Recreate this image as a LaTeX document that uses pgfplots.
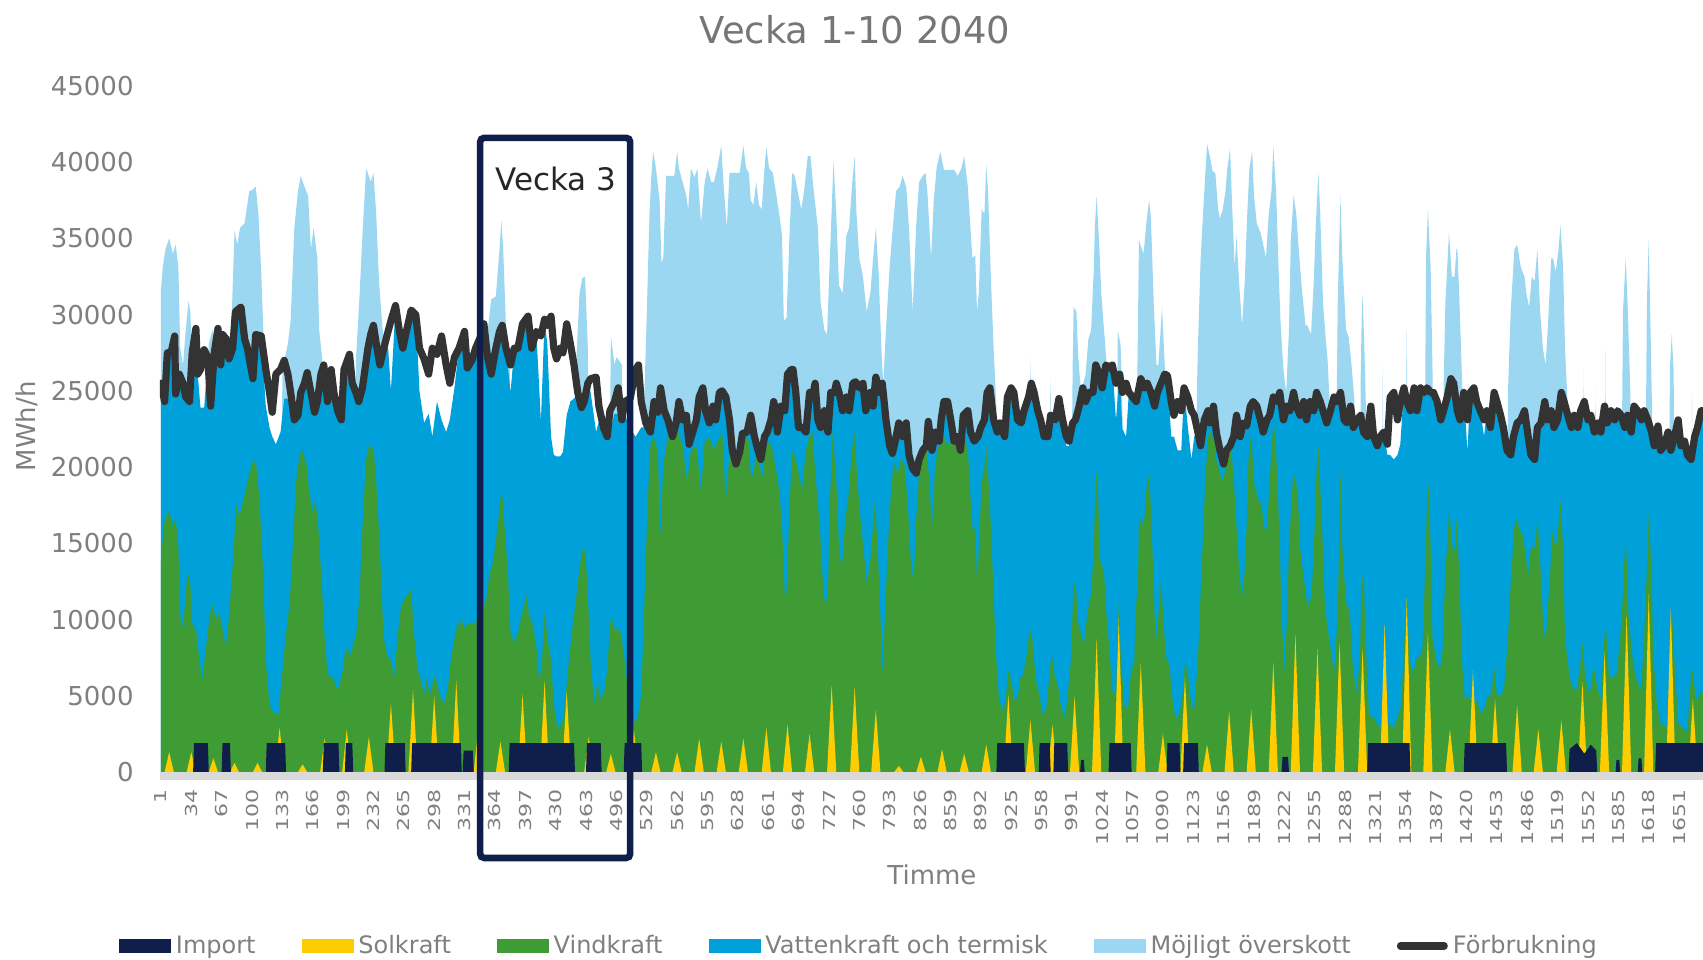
\documentclass[border=0pt]{standalone}
\usepackage{fontspec}
\setmainfont{DejaVu Sans}
\usepackage{graphicx}
\usepackage{pgfplots}
\usepackage{pgfplotstable}
\pgfplotsset{compat=1.18}

\definecolor{impc}{HTML}{0F1E4B}
\definecolor{solc}{HTML}{FFCC00}
\definecolor{vinc}{HTML}{3F9C35}
\definecolor{vatc}{HTML}{00A0DA}
\definecolor{mojc}{HTML}{9BD7F0}
\definecolor{forc}{HTML}{333333}
\definecolor{txtc}{HTML}{7F7F7F}
\definecolor{titc}{HTML}{767676}
\definecolor{axc}{HTML}{D9D9D9}

\newcommand{\xl}[1]{\scalebox{1}[0.75]{#1}}

% timme, förbrukning (L), topp vattenkraft (B)
\pgfplotstableread[row sep=\\]{
h L B\\
1 25500 25500\\ 5 24300 24300\\ 8 27500 27500\\ 12 27500 27500\\ 16 28600 28600\\ 17 24800 24800\\
21 26100 26100\\ 25 25500 25500\\ 28 24600 24600\\ 32 24300 24300\\ 35 27500 27500\\ 39 29100 29100\\
41 26100 26100\\ 44 26400 23900\\ 48 27700 23900\\ 52 27200 27200\\ 55 24000 24000\\ 59 27500 27500\\
63 29100 29100\\ 66 26700 26700\\ 68 28700 28700\\ 72 28400 28400\\ 75 27100 27100\\ 79 27800 27800\\
82 30200 30200\\ 88 30500 30500\\ 92 28400 28400\\ 95 27800 27800\\ 101 25800 25800\\ 104 28700 28700\\
110 28600 28600\\ 115 26400 24000\\ 119 24900 22600\\ 122 23600 22000\\ 126 26100 21500\\ 131 26400 22300\\
135 27000 24500\\ 139 26100 24500\\ 142 24900 23500\\ 146 23100 23100\\ 150 23400 23400\\ 153 24900 24900\\
157 25500 25500\\ 160 26200 26200\\ 164 24900 24900\\ 168 23600 23600\\ 171 24300 24300\\ 175 26100 26100\\
178 26700 26700\\ 182 24300 24300\\ 186 26400 26400\\ 189 24900 24900\\ 193 23700 23100\\ 197 23100 23100\\
200 26400 26400\\ 206 27400 27400\\ 209 25500 25500\\ 213 24900 24900\\ 216 24300 24300\\ 220 25200 25200\\
226 27800 27800\\ 229 28700 28700\\ 232 29300 29300\\ 235 28100 28100\\ 239 26700 26700\\ 242 27500 27500\\
247 28700 28700\\ 251 29600 25000\\ 256 30600 30600\\ 260 29000 29000\\ 264 27800 27800\\ 267 28700 28700\\
273 30300 30300\\ 278 30000 30000\\ 282 27800 25000\\ 287 27100 22900\\ 292 26100 23500\\ 296 27800 22000\\
301 27400 24300\\ 306 28600 23100\\ 311 26700 22300\\ 315 25500 23100\\ 320 27200 25200\\ 325 27800 27800\\
331 28900 28900\\ 334 26500 26500\\ 339 27000 27000\\ 343 27800 27800\\ 348 28500 28500\\ 352 29400 29400\\
356 27200 27200\\ 360 26100 26100\\ 365 27800 27800\\ 369 28900 28900\\ 372 29300 29300\\ 376 27800 27800\\
381 26700 24900\\ 385 27800 27800\\ 389 27800 27800\\ 394 29400 29400\\ 400 29900 29900\\ 404 27800 27800\\
409 28900 28900\\ 414 28600 23000\\ 418 29700 29700\\ 421 29300 28000\\ 425 29900 22000\\ 428 27800 20800\\
431 27100 20700\\ 435 27800 20700\\ 438 27500 21000\\ 442 29400 23400\\ 446 28100 24300\\ 450 26700 24500\\
454 24900 24900\\ 458 23900 23900\\ 461 24300 24300\\ 465 25500 25500\\ 468 25800 24900\\ 474 25900 22300\\
477 24000 23000\\ 482 22600 22600\\ 486 22000 22000\\ 489 23700 22300\\ 494 24300 23500\\ 498 25200 23500\\
502 23100 23100\\ 505 24300 23500\\ 511 24500 22500\\ 517 26400 22000\\ 520 26700 22300\\ 523 24300 22600\\
528 22900 22600\\ 533 22300 22300\\ 537 24300 24300\\ 541 23600 23600\\ 544 25200 25200\\ 548 23700 23700\\
552 23100 23100\\ 557 22000 22000\\ 561 22900 22900\\ 564 24300 24300\\ 568 23100 23100\\ 572 23400 23400\\
575 21500 21500\\ 579 22300 22300\\ 583 23100 23100\\ 586 24600 24600\\ 590 25200 25200\\ 593 23700 23700\\
597 22900 22900\\ 601 24000 24000\\ 604 23100 23100\\ 608 24900 24900\\ 611 25000 25000\\ 615 24600 24600\\
619 23100 23100\\ 622 21100 21100\\ 626 20200 20200\\ 630 21000 21000\\ 633 22200 22200\\ 638 22300 22300\\
642 23400 23400\\ 646 22000 22000\\ 650 21100 21100\\ 653 20500 20500\\ 657 22000 22000\\ 660 22300 22300\\
664 23100 23100\\ 667 24300 24300\\ 669 23700 23700\\ 671 22300 22300\\ 675 24000 24000\\ 679 23700 23700\\
682 26100 26100\\ 686 26400 26400\\ 688 26400 26400\\ 691 24900 24900\\ 694 22600 22600\\ 698 22600 22600\\
702 22300 22300\\ 706 24900 24900\\ 709 24600 24600\\ 712 25500 25500\\ 715 23100 23100\\ 718 22600 22600\\
722 23700 23700\\ 726 22300 22300\\ 729 24900 24900\\ 733 24900 24900\\ 735 25500 25500\\ 738 24900 24900\\
742 23700 23700\\ 746 24600 24600\\ 749 23700 23700\\ 753 25500 25500\\ 756 25600 25600\\ 760 25200 25200\\
764 25500 25500\\ 767 23700 23700\\ 772 24900 24900\\ 775 24000 24000\\ 778 25900 25900\\ 782 24900 24900\\
785 25500 25500\\ 789 23100 23100\\ 793 21400 21400\\ 796 20900 20900\\ 800 22000 22000\\ 803 22900 22900\\
807 22000 22000\\ 811 22900 22900\\ 814 20800 20800\\ 818 19900 19900\\ 822 19600 19600\\ 825 20500 20500\\
829 21100 21100\\ 833 21400 21400\\ 835 23000 23000\\ 839 21100 21100\\ 843 22300 22300\\ 847 21700 21700\\
849 23100 23100\\ 852 24300 24300\\ 856 24300 24300\\ 860 22900 22900\\ 863 21700 21700\\ 867 22000 22000\\
870 21100 21100\\ 873 23400 23400\\ 878 23700 23700\\ 881 22300 22300\\ 885 21700 21700\\ 889 22000 22000\\
892 22600 22600\\ 896 23100 23100\\ 899 24900 24900\\ 902 25200 25200\\ 906 23100 23100\\ 910 22300 22300\\
913 22900 22300\\ 918 22000 22000\\ 921 24600 24600\\ 925 25200 25200\\ 928 24900 24900\\ 932 23100 23100\\
936 22900 22900\\ 939 23700 23700\\ 944 24600 24600\\ 947 25500 25500\\ 950 24900 24900\\ 954 23700 23700\\
957 23100 23100\\ 961 22000 22000\\ 965 22000 22000\\ 968 23400 23400\\ 973 23100 23100\\ 977 24500 24500\\
981 23100 23100\\ 985 22000 21400\\ 988 21700 21400\\ 992 22900 22900\\ 995 23100 23100\\ 999 24000 24000\\
1003 25200 25200\\ 1006 24300 24300\\ 1010 24900 24900\\ 1014 24900 24900\\ 1017 26700 26700\\ 1021 26100 26100\\
1024 25200 25200\\ 1028 26700 26700\\ 1032 26500 26500\\ 1035 26700 26700\\ 1039 25500 23100\\ 1043 26100 26100\\
1046 24900 22500\\ 1050 25500 22000\\ 1053 24900 24900\\ 1057 24600 24600\\ 1061 24300 24300\\ 1066 25800 25800\\
1070 25200 25200\\ 1073 25500 25500\\ 1077 24900 24900\\ 1081 24000 24000\\ 1084 24900 24900\\ 1088 25500 25500\\
1092 26100 26100\\ 1095 26000 26000\\ 1099 24300 22000\\ 1102 23400 22000\\ 1106 24300 21100\\ 1110 23700 21100\\
1113 25200 25200\\ 1117 24600 22700\\ 1121 23700 20500\\ 1124 23400 22000\\ 1128 22300 22300\\ 1131 21400 21400\\
1135 23100 23100\\ 1139 23700 23700\\ 1141 22900 22900\\ 1145 24000 24000\\ 1148 22300 22300\\ 1152 21100 21100\\
1156 20200 20200\\ 1159 21100 21100\\ 1163 21400 21400\\ 1167 22000 22000\\ 1170 23400 23400\\ 1174 22000 22000\\
1177 22900 22900\\ 1181 22700 22700\\ 1185 24000 24000\\ 1188 24300 24300\\ 1192 24000 24000\\ 1196 23100 23100\\
1199 22300 22300\\ 1203 23100 23100\\ 1206 23400 23400\\ 1210 24600 24600\\ 1214 24300 24300\\ 1217 24900 24900\\
1221 23100 23100\\ 1225 24000 24000\\ 1228 23700 23700\\ 1232 24900 24900\\ 1235 24000 24000\\ 1239 23400 23400\\
1243 24300 24300\\ 1246 23100 23100\\ 1250 24300 24300\\ 1254 23700 23700\\ 1257 24900 24900\\ 1261 24300 24300\\
1264 23700 23700\\ 1268 22900 22900\\ 1272 23700 23700\\ 1276 24600 24600\\ 1279 24300 24300\\ 1283 24900 24900\\
1287 23100 23100\\ 1290 22900 22900\\ 1294 24000 24000\\ 1297 22600 22600\\ 1301 23100 23100\\ 1305 23400 23400\\
1308 22300 22300\\ 1312 22000 22000\\ 1316 24000 24000\\ 1319 22000 22000\\ 1323 21400 21400\\ 1326 22000 22000\\
1330 22300 22300\\ 1334 21500 20800\\ 1337 24600 20800\\ 1341 24900 20500\\ 1345 23100 20800\\ 1348 24300 21500\\
1352 25200 25200\\ 1355 24300 24300\\ 1359 23700 23700\\ 1363 25200 25200\\ 1366 23700 23700\\ 1370 25200 25200\\
1374 24900 24900\\ 1377 25200 25200\\ 1381 24900 24900\\ 1384 24900 24900\\ 1388 24300 24300\\ 1392 23100 23100\\
1395 23700 23700\\ 1399 24600 24600\\ 1403 25800 25800\\ 1406 25500 25500\\ 1410 23700 23700\\ 1413 23100 23100\\
1417 24900 24900\\ 1421 23100 21000\\ 1424 24900 24900\\ 1428 25200 25200\\ 1431 24300 24300\\ 1435 23700 23700\\
1439 23100 22000\\ 1442 23700 23700\\ 1446 22600 22600\\ 1450 24900 24900\\ 1453 24300 24300\\ 1457 23400 23400\\
1460 22600 22000\\ 1464 21100 21100\\ 1468 20800 20800\\ 1471 22000 22000\\ 1475 22900 22900\\ 1479 23100 23100\\
1483 23700 23700\\ 1487 22000 22000\\ 1490 20800 20800\\ 1494 20500 20500\\ 1497 22600 22600\\ 1501 22900 22900\\
1505 24300 24300\\ 1508 23100 23100\\ 1512 23700 23700\\ 1515 22600 22600\\ 1519 23100 23100\\ 1523 24900 24900\\
1526 24300 24300\\ 1530 23400 23400\\ 1534 22600 22600\\ 1537 23400 23400\\ 1541 22600 22600\\ 1544 23700 23700\\
1548 24300 24300\\ 1552 23100 23100\\ 1555 23400 23400\\ 1559 22300 22300\\ 1563 22900 22900\\ 1566 22300 22300\\
1570 24000 24000\\ 1573 22900 22900\\ 1577 23700 23700\\ 1581 23100 23100\\ 1584 23700 23700\\ 1588 23400 23400\\
1592 22600 22600\\ 1595 23400 23400\\ 1599 22300 22300\\ 1602 24000 24000\\ 1606 23700 23700\\ 1610 23100 23100\\
1613 23700 23700\\ 1617 23100 23100\\ 1621 22300 22300\\ 1624 21400 21400\\ 1628 22700 22700\\ 1631 21100 20800\\
1635 21400 21400\\ 1639 22300 22300\\ 1642 21100 21100\\ 1646 22000 22000\\ 1650 23100 23100\\ 1653 21400 21400\\
1657 21700 21700\\ 1660 20800 20800\\ 1664 20500 20500\\ 1668 22000 22000\\ 1671 22600 22600\\ 1675 23700 23700\\
1677 23700 23700\\
}\tabLB

\begin{document}
\begin{tikzpicture}
\begin{axis}[
    at={(0,0)}, anchor=south west,
    width=771.5pt, height=343pt, scale only axis,
    xmin=0, xmax=1677, ymin=0, ymax=45000,
    axis line style={draw=none},
    major tick length=0pt,
    clip mode=individual,
    scaled y ticks=false,
    scaled x ticks=false,
    ytick={0,5000,10000,15000,20000,25000,30000,35000,40000,45000},
    yticklabels={0,5000,10000,15000,20000,25000,30000,35000,40000,45000},
    yticklabel style={font=\fontsize{13}{13}\selectfont, text=txtc, anchor=east, inner xsep=13pt},
    xtick={1,34,67,100,133,166,199,232,265,298,331,364,397,430,463,496,529,562,595,628,661,694,727,760,793,826,859,892,925,958,991,1024,1057,1090,1123,1156,1189,1222,1255,1288,1321,1354,1387,1420,1453,1486,1519,1552,1585,1618,1651},
    xticklabels={\xl{1},\xl{34},\xl{67},\xl{100},\xl{133},\xl{166},\xl{199},\xl{232},\xl{265},\xl{298},\xl{331},\xl{364},\xl{397},\xl{430},\xl{463},\xl{496},\xl{529},\xl{562},\xl{595},\xl{628},\xl{661},\xl{694},\xl{727},\xl{760},\xl{793},\xl{826},\xl{859},\xl{892},\xl{925},\xl{958},\xl{991},\xl{1024},\xl{1057},\xl{1090},\xl{1123},\xl{1156},\xl{1189},\xl{1222},\xl{1255},\xl{1288},\xl{1321},\xl{1354},\xl{1387},\xl{1420},\xl{1453},\xl{1486},\xl{1519},\xl{1552},\xl{1585},\xl{1618},\xl{1651}},
    xticklabel style={font=\fontsize{11}{11}\selectfont, text=txtc, rotate=90, anchor=east, inner xsep=8.5pt, inner ysep=0pt},
    title={Vecka 1-10 2040},
    title style={at={(0.4504,1.0641)}, anchor=center, font=\fontsize{18.5}{18.5}\selectfont, text=titc},
    xlabel={Timme},
    xlabel style={at={(0.5003,-0.150)}, anchor=center, font=\fontsize{13}{13}\selectfont, text=txtc},
    ylabel={MWh/h},
    ylabel style={at={(-0.0862,0.504)}, anchor=center, font=\fontsize{13}{13}\selectfont, text=txtc},
    legend columns=6,
    legend style={at={(0.454,-0.2536)}, anchor=center, draw=none, fill=none,
        font=\fontsize{12}{12}\selectfont, text=txtc, inner xsep=0pt, inner ysep=0pt,
        nodes={inner xsep=2.5pt, inner ysep=1pt},
        /tikz/every even column/.append style={column sep=20.5pt}},
]
% Möjligt överskott (total topp)
\addplot[fill=mojc, draw=none, forget plot] coordinates {
(1,31600)(3,33100)(6,34300)(10,35000)(14,34000)(17,34600)(20,33100)(22,27800)(25,26700)(28,29000)(31,30900)(33,30200)(35,26700)(38,27000)(41,26000)(43,15000)(50,15000)(53,28100)(57,29000)(61,27800)(64,27200)(68,26500)(72,26100)(75,27200)(78,30000)(81,35500)(84,34600)(87,35700)(92,36000)(97,38100)(101,38200)(104,38400)(107,36600)(110,32800)(113,27800)(115,15000)(132,15000)(133,26400)(139,28100)(142,29600)(146,35700)(150,38100)(153,39100)(157,38400)(161,37800)(164,34300)(167,35700)(171,33700)(173,29000)(177,26700)(180,15000)
(211,15000)(213,27000)(217,31400)(220,35200)(224,39600)(227,39100)(229,38700)(232,39300)(235,36600)(238,32200)(242,29000)(246,27200)(248,15000)(352,15000)(354,27800)(360,31000)(365,31200)(369,34300)(371,36200)(373,34300)(376,29300)(380,27200)(382,15000)(450,15000)(452,26500)(456,31400)(459,32400)(462,32500)(465,27800)(468,15000)(488,15000)(490,28600)(494,26700)(496,27200)(499,27000)(502,26700)(504,15000)
(524,15000)(526,24000)(528,27800)(532,36600)(534,39100)(536,40700)(539,39600)(543,37500)(545,33400)(547,33700)(550,39100)(553,39100)(559,39100)(562,40700)(564,39600)(568,38700)(572,37800)(574,36900)(577,39600)(581,39000)(584,39600)(588,36000)(592,38700)(595,39600)(599,38700)(602,38700)(606,39700)(610,41100)(612,39000)(616,35700)(619,39300)(624,39300)(630,39300)(634,41100)(637,39600)(640,39300)(642,37500)(645,37200)(648,38700)(651,37200)(654,36900)(657,39600)(659,41000)(662,39600)(666,39300)(670,37800)(673,36600)(676,35200)(678,29600)(681,29800)(684,34900)(687,39300)(690,39100)(693,38100)(697,36900)(700,38100)(704,40400)(707,40400)(710,38400)(715,35700)(718,30800)(722,29000)(725,28700)(728,33700)(732,40100)(735,36600)(738,31900)(742,31400)(746,35200)(749,35700)(752,38400)(755,40400)(757,36600)(760,33700)(764,32500)(768,30200)(772,31400)(775,33700)(778,35700)(781,32800)(784,27800)(786,25500)(789,29000)(793,33100)(796,35400)(800,38100)(804,38400)(807,39100)(811,38400)(814,35700)(818,30200)(822,36000)(825,38700)(829,39100)(832,39300)(834,38100)(838,33700)(841,37500)(844,39600)(848,40700)(852,39500)(858,39500)(863,39500)(867,39100)(871,39600)(874,40400)(878,38400)(881,35500)(883,33700)(886,33900)(888,30200)(890,31500)(893,36900)(896,36600)(898,39800)(900,38100)(903,32500)(906,27800)(909,24000)(911,15000)
(944,15000)(946,27200)(948,15000)(966,15000)(968,25800)(970,15000)(990,15000)(992,27000)(993,30500)(996,30200)(998,27200)(1001,24900)(1006,26100)(1009,28400)(1012,29000)(1015,33100)(1016,35700)(1018,37800)(1021,34300)(1023,31400)(1026,29000)(1029,26700)(1033,24500)(1035,15000)(1039,15000)(1041,29000)(1044,28000)(1046,24000)(1047,15000)
(1061,15000)(1062,25000)(1064,34900)(1066,34500)(1069,34000)(1072,36000)(1075,37500)(1077,36300)(1080,30800)(1083,26700)(1085,26700)(1087,28500)(1089,30500)(1092,26700)(1094,25000)(1096,15000)(1125,15000)(1127,25000)(1128,27800)(1131,33700)(1135,38100)(1138,41200)(1141,40400)(1144,39400)(1147,39300)(1150,36900)(1152,36300)(1155,36900)(1158,38100)(1160,39600)(1163,40900)(1165,37500)(1168,33100)(1170,35200)(1173,31900)(1176,29300)(1179,32200)(1181,35700)(1184,39600)(1187,40700)(1189,37800)(1192,36000)(1196,35400)(1199,34600)(1202,33700)(1205,36600)(1208,38100)(1210,41000)(1213,38100)(1216,32500)(1218,29300)(1221,26400)(1224,24900)(1227,29000)(1229,34900)(1232,37800)(1235,36600)(1238,34000)(1241,31700)(1245,29300)(1247,29300)(1251,28700)(1254,32200)(1256,35700)(1259,39300)(1261,36600)(1264,30800)(1267,28400)(1269,27000)(1271,24500)(1273,15000)
(1277,15000)(1279,25000)(1280,30800)(1283,37800)(1285,33700)(1289,29000)(1292,28500)(1295,26700)(1298,24500)(1300,15000)(1304,15000)(1305,26000)(1306,29600)(1307,31400)(1309,27800)(1311,23000)(1312,15000)(1328,15000)(1329,26700)(1330,15000)(1353,15000)(1355,29000)(1357,15000)(1374,15000)(1376,33700)(1378,36900)(1381,33100)(1383,26400)(1385,15000)(1394,15000)(1395,25000)(1397,30800)(1400,34300)(1401,35400)(1404,32500)(1407,32500)(1409,34300)(1410,34300)(1412,31400)(1414,27800)(1416,24000)(1417,15000)
(1464,15000)(1465,24900)(1468,30200)(1472,34300)(1475,34600)(1479,33100)(1481,32800)(1483,32500)(1485,31400)(1488,30500)(1491,32500)(1494,32200)(1497,34300)(1500,30200)(1503,27800)(1506,26700)(1509,29900)(1512,33700)(1514,33700)(1517,32800)(1520,34300)(1522,35900)(1525,33100)(1527,27800)(1530,24000)(1531,15000)(1546,15000)(1547,26500)(1548,15000)(1559,15000)(1560,25200)(1561,15000)(1570,15000)(1571,27700)(1572,15000)(1588,15000)(1590,30200)(1593,33700)(1595,30800)(1598,25000)(1599,15000)(1614,15000)(1616,30800)(1618,34900)(1620,29000)(1622,22500)(1623,15000)(1640,15000)(1641,26400)(1643,28700)(1645,26400)(1647,15000)(1664,15000)(1665,24900)(1666,15000)(1677,15000)
} \closedcycle;
% Vattenkraft och termisk (topp)
\addplot[fill=vatc, draw=none, forget plot] table[x=h, y=B] {\tabLB} \closedcycle;
% Vindkraft (topp)
\addplot[fill=vinc, draw=none, forget plot] coordinates {
(1,13800)(4,16100)(6,16700)(10,17100)(14,16100)(17,16700)(20,14650)(22,10250)(25,9400)(30,13200)(33,12300)(35,9700)(39,9400)(43,7300)(46,6000)(50,8200)(54,10250)(57,11000)(61,10000)(64,10500)(68,9400)(72,8200)(75,10250)(79,13500)(83,17600)(86,16700)(91,17900)(95,19000)(100,20200)(104,20500)(108,17900)(112,13200)(115,7300)(119,4400)(124,3800)(129,3800)(132,5900)(137,9100)(141,11100)(144,14400)(148,19000)(151,20500)(154,21200)(159,20200)(162,18500)(166,17000)(169,17900)(172,16100)(175,13200)(179,8800)(182,6400)(188,6200)(193,5300)(199,6700)(202,8200)(208,7600)
(210,8500)(213,8800)(217,11700)(220,16100)(224,20500)(227,21500)(229,21100)(232,21400)(235,19000)(239,14700)(243,8800)(247,7600)(251,7300)(255,6200)(258,8800)(262,10800)(266,11400)(269,11600)(273,12000)(276,9100)(280,6700)(284,5900)(287,5000)(290,6200)(293,5000)(299,6400)(304,5000)(309,4500)(313,5600)(316,7300)(322,9400)(327,10000)(331,9400)(336,9800)(342,9700)(351,10800)(354,11100)(358,12900)(362,13800)(367,16100)(370,17900)(372,18300)(374,16400)(378,13200)(381,9100)(385,8500)(389,9100)(394,10500)(399,11700)(401,10250)(405,9700)(409,8200)(412,5900)(415,7000)(418,10500)
(421,8800)(425,7300)(428,4400)(432,2900)(436,3100)(439,3800)(443,6400)(447,8800)(450,10250)(454,12300)(457,13800)(459,14400)(462,14700)(465,11700)(468,7300)(472,4400)(476,5900)(479,4700)(483,5300)(486,6700)(490,10250)(494,9400)(497,9400)(501,9100)(505,7300)(510,4500)(515,3200)(519,3500)(523,5000)(526,10250)(530,17600)(533,21400)(536,22000)(541,21100)(544,15200)(547,20200)(552,22000)(557,22000)(563,22300)(568,21400)(573,19000)(577,21100)(583,21400)(588,18300)(592,21700)(597,22000)(602,21100)(606,21700)(611,22300)(615,17700)(619,21100)(624,20800)(630,20200)
(633,21100)(637,22000)(640,21700)(642,19600)(645,19300)(648,21400)(652,20200)(654,19000)(658,21100)(662,21700)(666,21100)(670,19600)(673,18500)(676,16100)(679,11700)(681,11700)(684,17000)(687,21100)(691,20500)(695,19300)(698,18500)(702,21100)(706,22000)(709,22300)(713,19000)(717,16100)(720,12900)(723,10800)(726,11700)(728,17600)(731,22300)(735,19000)(738,14700)(741,13300)(745,16700)(748,17900)(752,21100)(755,22300)(758,19000)(762,16100)(766,13800)(768,12300)(772,13800)(775,16100)(777,17900)(780,14700)(783,10250)(785,6200)(788,10250)(791,14700)(795,19000)(798,20200)(802,19600)(805,20500)(809,20200)(813,17300)(816,13800)(819,12300)(822,16700)(825,19600)(829,20500)(833,21100)(836,19300)(839,15800)(842,19600)(845,21100)
(849,21700)(852,22000)(856,21400)(860,21700)(863,21700)(867,21400)(871,21700)(874,22000)(878,21100)(881,17900)(883,16100)(886,15800)(888,12300)(890,14700)(893,19000)(896,19900)(898,21400)(900,19600)(903,16100)(906,11700)(909,7300)(912,4700)(916,4000)(919,4700)(922,6700)(925,6000)(929,4700)(932,4800)(935,6200)(938,6300)(941,7300)(944,8800)(947,9400)(950,7300)(952,6000)(956,5000)(959,3800)(963,4100)(967,6400)(969,7900)(972,6400)(976,5600)(979,4400)(983,3500)(986,4700)(990,7300)(993,12600)(996,11700)(998,9700)(1001,9100)(1004,8200)(1006,9400)(1009,10800)(1012,11700)(1015,14700)(1017,19900)(1019,19000)(1022,13800)(1026,13200)(1028,10800)(1032,7900)(1035,5300)(1039,5000)(1042,11100)(1044,7900)(1048,4400)(1052,4100)(1055,6400)(1059,7300)
(1060,10250)(1063,12600)(1064,17000)(1067,16100)(1070,16700)(1072,18500)(1075,19600)(1077,17300)(1080,12300)(1082,8200)(1085,10250)(1088,12600)(1091,9700)(1093,7600)(1097,7000)(1101,4400)(1104,3500)(1108,3800)(1112,5300)(1114,7300)(1117,6400)(1121,4400)(1124,4100)(1128,7300)(1130,10250)(1133,14700)(1136,19000)(1139,22000)(1142,22300)(1146,21700)(1148,20500)(1151,19900)(1154,19000)(1157,19600)(1159,20500)(1162,22000)(1165,20800)(1168,18200)(1170,16100)(1173,13200)(1176,11400)(1179,13200)(1181,16100)(1183,20500)(1186,22300)(1189,19000)(1193,17900)(1197,17600)(1200,16100)(1203,15800)(1206,19000)(1209,22000)(1211,22900)(1214,19900)(1217,14700)(1219,10250)(1222,6400)(1225,10250)(1227,14700)(1231,19000)(1234,19600)(1237,17600)(1239,14700)(1242,13200)(1246,11400)(1249,10800)(1252,11900)(1255,16100)(1257,19900)(1259,21400)(1263,16100)(1266,11000)
(1269,9400)(1272,8200)(1276,6400)(1280,10250)(1283,19900)(1285,14700)(1289,11100)(1293,10500)(1296,7300)(1300,5000)(1304,7300)(1306,12300)(1308,13200)(1311,7600)(1314,3800)(1320,3500)(1325,2900)(1331,3200)(1336,3200)(1340,2900)(1343,3200)(1349,4400)(1352,8200)(1355,11400)(1358,7300)(1362,6400)(1365,7300)(1369,7600)(1372,7900)(1375,13200)(1377,17600)(1379,19000)(1381,14700)(1383,8800)(1387,7300)(1391,6700)(1394,7900)(1397,13200)(1400,15800)(1401,17600)(1404,14900)(1407,14400)(1409,16700)(1412,13200)(1415,7300)(1418,4700)(1422,5000)(1427,4400)(1431,4700)(1436,3800)(1439,4100)(1443,5000)(1447,5000)(1450,7000)(1453,5000)(1458,5000)(1461,5600)(1465,8800)(1468,12300)(1472,16100)(1475,16700)
(1477,16000)(1481,15500)(1484,14400)(1487,12900)(1490,14700)(1494,14700)(1497,16600)(1500,13800)(1504,8800)(1507,9400)(1511,13200)(1513,15800)(1517,14700)(1519,15500)(1522,17900)(1525,14700)(1527,8800)(1532,6200)(1535,5600)(1539,5300)(1543,6700)(1546,8500)(1549,6200)(1554,5000)(1558,7000)(1562,5600)(1566,4700)(1571,10000)(1575,6200)(1578,6200)(1583,6400)(1587,8800)(1590,11700)(1593,15800)(1596,10250)(1600,7600)(1604,6200)(1609,5300)(1612,7600)(1616,13200)(1618,17000)(1621,13200)(1623,7600)(1627,4400)(1631,3200)(1637,2900)(1641,4400)(1643,10800)(1646,7300)(1650,3200)(1655,2900)(1660,2600)(1664,6400)(1666,6700)(1669,4700)(1673,5000)(1677,5300)
} \closedcycle;
% Solkraft (topp)
\addplot[fill=solc, draw=none, forget plot] coordinates {
(5,0)(10,1300)(15,0)(29,0)(34,1300)(39,0)(53,0)(58,900)(63,0)(76,0)(81,600)(86,0)(101,0)(106,600)(111,0)(125,0)(130,2900)(135,0)(150,0)(155,500)(160,0)(174,0)(179,2200)(184,0)(198,0)(203,2800)(208,0)
(222,0)(227,2300)(232,0)(246,0)(251,4500)(256,0)(270,0)(275,5400)(280,0)(293,0)(298,5000)(303,0)(317,0)(322,6000)(327,0)(341,0)(346,3000)(351,0)(365,0)(370,2000)(375,0)(389,0)(394,5100)(399,0)(413,0)(418,6000)(423,0)
(437,0)(442,5300)(447,0)(461,0)(466,2300)(471,0)(485,0)(490,1200)(495,0)(510,0)(515,2800)(520,0)(534,0)(539,1300)(544,0)(557,0)(562,1300)(567,0)(581,0)(586,2200)(591,0)(605,0)(610,2000)(615,0)(629,0)(634,2200)(639,0)
(654,0)(659,2900)(664,0)(677,0)(682,3100)(687,0)(701,0)(706,2500)(711,0)(725,0)(730,5700)(735,0)(750,0)(755,5600)(760,0)(773,0)(778,4100)(783,0)(798,0)(803,400)(808,0)(822,0)(827,1000)(832,0)
(845,0)(850,1500)(855,0)(869,0)(874,1200)(879,0)(893,0)(898,1800)(903,0)(917,0)(922,5100)(927,0)(941,0)(946,3400)(951,0)(965,0)(970,3100)(975,0)(989,0)(994,5000)(999,0)(1013,0)(1018,8800)(1023,0)(1037,0)(1042,10100)(1047,0)
(1061,0)(1066,7200)(1071,0)(1085,0)(1090,2500)(1095,0)(1109,0)(1114,6200)(1119,0)(1133,0)(1138,1800)(1143,0)(1157,0)(1162,4000)(1167,0)(1181,0)(1186,4100)(1191,0)(1205,0)(1210,7200)(1215,0)(1229,0)(1234,9100)(1239,0)(1253,0)(1258,8100)(1263,0)
(1277,0)(1282,8500)(1287,0)(1302,0)(1307,8100)(1312,0)(1326,0)(1331,9800)(1336,0)(1350,0)(1355,11400)(1360,0)(1373,0)(1378,9200)(1383,0)(1397,0)(1402,2800)(1407,0)(1422,0)(1427,6700)(1432,0)(1446,0)(1451,4800)(1456,0)(1470,0)(1475,4400)(1480,0)
(1493,0)(1498,2800)(1503,0)(1518,0)(1523,3400)(1528,0)(1541,0)(1546,5900)(1551,0)(1565,0)(1570,7900)(1575,0)(1589,0)(1594,10400)(1599,0)(1613,0)(1618,11700)(1623,0)(1637,0)(1642,10800)(1647,0)(1661,0)(1666,4800)(1671,0)
} \closedcycle;
% Import
\addplot[fill=impc, draw=none, forget plot] coordinates {
(36,0)(37,1900)(52,1900)(53,0)(67,0)(68,1900)(76,1900)(77,0)(115,0)(116,1900)(136,1900)(137,0)(177,0)(178,1900)(194,1900)(195,0)(201,0)(202,1900)(209,1900)(210,0)
(244,0)(245,1900)(266,1900)(267,0)(273,0)(274,1900)(327,1900)(328,0)(329,0)(330,1400)(340,1400)(341,0)(379,0)(380,1900)(450,1900)(451,0)(463,0)(464,1900)(479,1900)(480,0)(504,0)(505,1900)(523,1900)(524,0)
(909,0)(910,1900)(939,1900)(940,0)(955,0)(956,1900)(967,1900)(968,0)(971,0)(972,1900)(986,1900)(987,0)(1000,0)(1001,800)(1004,800)(1005,0)(1031,0)(1032,1900)(1055,1900)(1056,0)
(1094,0)(1095,1900)(1108,1900)(1109,0)(1112,0)(1113,1900)(1128,1900)(1129,0)(1219,0)(1220,1000)(1226,1000)(1227,0)(1312,0)(1313,1900)(1358,1900)(1359,0)(1417,0)(1418,1900)(1463,1900)(1464,0)
(1531,0)(1532,1500)(1540,1900)(1548,1200)(1555,1800)(1561,1400)(1562,0)(1582,0)(1583,800)(1586,800)(1587,0)(1606,0)(1607,900)(1610,900)(1611,0)(1625,0)(1626,1900)(1677,1900)
} \closedcycle;
% Förbrukning
\addplot[forc, line width=3.6pt, line join=round, line cap=round, mark=none, forget plot] table[x=h, y=L] {\tabLB};

\fill[axc] (axis cs:0,0) rectangle ([yshift=-4pt]axis cs:1677,0);
\draw[impc, line width=3.3pt, rounded corners=2pt] (axis cs:348,41600) rectangle (axis cs:511,-5640);
\node[font=\fontsize{15.5}{15.5}\selectfont, text=black!85] at (axis cs:430,38900) {Vecka 3};

\addlegendimage{legend image code/.code={\fill[impc] (0pt,-3.25pt) rectangle (25.5pt,3.25pt);}}
\addlegendentry{Import}
\addlegendimage{legend image code/.code={\fill[solc] (0pt,-3.25pt) rectangle (25.5pt,3.25pt);}}
\addlegendentry{Solkraft}
\addlegendimage{legend image code/.code={\fill[vinc] (0pt,-3.25pt) rectangle (25.5pt,3.25pt);}}
\addlegendentry{Vindkraft}
\addlegendimage{legend image code/.code={\fill[vatc] (0pt,-3.25pt) rectangle (25.5pt,3.25pt);}}
\addlegendentry{Vattenkraft och termisk}
\addlegendimage{legend image code/.code={\fill[mojc] (0pt,-3.25pt) rectangle (25.5pt,3.25pt);}}
\addlegendentry{Möjligt överskott}
\addlegendimage{legend image code/.code={\draw[forc, line width=3.6pt, line cap=round] (1.8pt,0pt) -- (23.7pt,0pt);}}
\addlegendentry{Förbrukning}
\end{axis}
\pgfresetboundingbox
\path[use as bounding box] (-80pt,-93.5pt) rectangle (771.5pt,386pt);
\end{tikzpicture}
\end{document}
